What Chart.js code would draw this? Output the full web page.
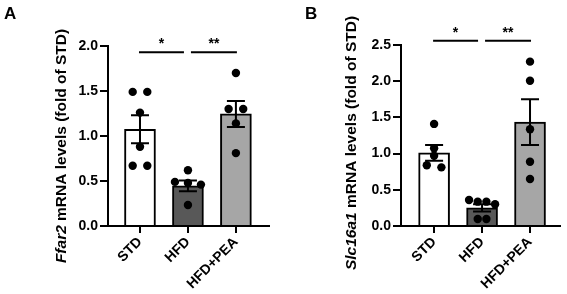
<!DOCTYPE html>
<html>
<head>
<meta charset="utf-8">
<script src="https://cdn.jsdelivr.net/npm/chart.js@4.4.1/dist/chart.umd.min.js"></script>
<style>
  body { margin: 0; background: #fff; }
  #wrap { display: flex; width: 567px; height: 294px; }
  canvas { display: block; }
</style>
</head>
<body>
<div id="wrap">
  <canvas id="chartA" width="284" height="294"></canvas>
  <canvas id="chartB" width="283" height="294"></canvas>
</div>
<script>
const groups = ['STD', 'HFD', 'HFD+PEA'];

// panel A - Ffar2
const ffar2Mean = [1.075, 0.445, 1.245];
const ffar2Sem = [0.155, 0.06, 0.145];
const ffar2Std = [1.49, 1.49, 1.26, 0.88, 0.67, 0.67];
const ffar2Hfd = [0.62, 0.49, 0.477, 0.46, 0.233];
const ffar2Pea = [1.70, 1.30, 1.30, 1.14, 0.81];
const ffar2Ticks = [0, 0.5, 1.0, 1.5, 2.0];
const ffar2SigY = 1.93;

// panel B - Slc16a1
const slcMean = [1.01, 0.25, 1.435];
const slcSem = [0.108, 0.05, 0.315];
const slcStd = [1.41, 1.073, 0.97, 0.84, 0.81];
const slcHfd = [0.36, 0.336, 0.336, 0.30, 0.097, 0.097];
const slcPea = [2.27, 2.007, 1.336, 0.888, 0.649];
const slcTicks = [0, 0.5, 1.0, 1.5, 2.0, 2.5];
const slcSigY = 2.56;

const sigPairs = [[0, 1], [1, 2]];
const sigLabels = ['*', '**'];

const barColors = ['#ffffff', '#585858', '#a6a6a6'];
const FONT = 'Liberation Sans, Arial, sans-serif';
Chart.defaults.font.family = FONT;
Chart.defaults.color = '#000';

function makePanel(id, p) {
  const barData = p.mean.map((m, i) => ({ x: i, y: m }));
  const dots = [];
  p.points.forEach((vals, g) => vals.forEach(v => dots.push({ x: g, y: v })));

  const panelPlugin = {
    id: 'panel' + id,
    // spread dots that sit on the same row, like prism does
    afterDatasetUpdate(chart, args) {
      if (args.index !== 0) return;
      const meta = args.meta;
      const byGroup = {};
      meta.data.forEach((pt, i) => {
        const g = dots[i].x;
        (byGroup[g] = byGroup[g] || []).push(pt);
      });
      Object.values(byGroup).forEach(pts => {
        pts.sort((a, b) => a.y - b.y);
        const rows = [];
        let row = null;
        pts.forEach(pt => {
          if (row && pt.y - row[0].y < 6) row.push(pt);
          else { row = [pt]; rows.push(row); }
        });
        const maxRow = Math.max(...rows.map(r => r.length));
        const gap = maxRow > 1 ? Math.min(14.6, 26 / (maxRow - 1)) : 0;
        rows.forEach(r => r.forEach((pt, k) => { pt.x += (k - (r.length - 1) / 2) * gap; }));
      });
    },
    // mean +/- SEM
    afterDatasetDraw(chart, args) {
      if (args.index !== 1) return;
      const c = chart.ctx, xs = chart.scales.x, ys = chart.scales.y;
      c.save();
      c.strokeStyle = '#000';
      c.lineWidth = 2;
      p.mean.forEach((m, i) => {
        const x = xs.getPixelForValue(i);
        const yt = ys.getPixelForValue(m + p.sem[i]);
        const yb = ys.getPixelForValue(m - p.sem[i]);
        c.beginPath();
        c.moveTo(x, yt); c.lineTo(x, yb);
        c.moveTo(x - 9, yt); c.lineTo(x + 9, yt);
        c.moveTo(x - 9, yb); c.lineTo(x + 9, yb);
        c.stroke();
      });
      c.restore();
    },
    afterDraw(chart) {
      const c = chart.ctx, xs = chart.scales.x, ys = chart.scales.y;
      c.save();
      c.fillStyle = '#000';
      c.strokeStyle = '#000';
      c.lineWidth = 2;
      // significance lines
      const ly = ys.getPixelForValue(p.sigY);
      sigPairs.forEach((pair, k) => {
        const x1 = xs.getPixelForValue(pair[0]) + (pair[0] > 0 ? 3 : -1);
        const x2 = xs.getPixelForValue(pair[1]) + (pair[1] < groups.length - 1 ? -4 : 1);
        c.beginPath();
        c.moveTo(x1, ly); c.lineTo(x2, ly);
        c.stroke();
        c.font = 'bold 14px ' + FONT;
        c.textAlign = 'center';
        c.textBaseline = 'alphabetic';
        c.fillText(sigLabels[k], (x1 + x2) / 2, ly - 4);
      });
      // panel letter
      c.font = 'bold 17px ' + FONT;
      c.textAlign = 'left';
      c.fillText(p.letter, p.letterX, 19);
      // y title, gene name in italics
      c.translate(p.titleX, p.titleY);
      c.rotate(-Math.PI / 2);
      c.textBaseline = 'middle';
      const fi = 'italic bold 15.5px ' + FONT, fb = 'bold 15.5px ' + FONT;
      c.font = fi; const w1 = c.measureText(p.gene).width;
      c.font = fb; const w2 = c.measureText(p.rest).width;
      const x0 = -(w1 + w2) / 2;
      c.font = fi; c.fillText(p.gene, x0, 0);
      c.font = fb; c.fillText(p.rest, x0 + w1, 0);
      c.restore();
    }
  };

  return new Chart(document.getElementById(id), {
    type: 'bar',
    data: {
      datasets: [
        {
          type: 'scatter', data: dots, order: 0,
          pointRadius: 4.2, pointHoverRadius: 4.2,
          pointBackgroundColor: '#000', pointBorderWidth: 0
        },
        {
          type: 'bar', data: barData, order: 1,
          backgroundColor: barColors, borderColor: '#000', borderWidth: 2,
          borderSkipped: 'bottom', barThickness: 31
        }
      ]
    },
    options: {
      responsive: false,
      animation: false,
      devicePixelRatio: 1,
      layout: { padding: { top: p.top, right: p.right, left: 0, bottom: 0 } },
      plugins: { legend: { display: false }, tooltip: { enabled: false } },
      scales: {
        x: {
          type: 'linear', min: p.xMin, max: p.xMax, offset: false, bounds: 'data',
          afterBuildTicks: s => { s.ticks = groups.map((g, i) => ({ value: i })); },
          afterFit: s => { s.height = 68; s.paddingLeft = 0; s.paddingRight = 0; },
          ticks: {
            callback: v => groups[v], autoSkip: false,
            minRotation: 45, maxRotation: 45, padding: 1,
            color: '#000', font: { weight: 'bold', size: 14 }
          },
          grid: { offset: false, drawOnChartArea: false, tickLength: 7, lineWidth: 2, color: '#000' },
          border: { color: '#000', width: 2 }
        },
        y: {
          min: 0, max: p.yMax,
          afterBuildTicks: s => { s.ticks = p.ticks.map(v => ({ value: v })); },
          afterFit: s => { s.width = p.left; s.paddingTop = 0; s.paddingBottom = 0; },
          ticks: {
            callback: v => v.toFixed(1), padding: 2,
            color: '#000', font: { weight: 'bold', size: 14 }
          },
          grid: { drawOnChartArea: false, tickLength: 8, lineWidth: 2, color: '#000' },
          border: { color: '#000', width: 2 }
        }
      }
    },
    plugins: [panelPlugin]
  });
}

makePanel('chartA', {
  mean: ffar2Mean, sem: ffar2Sem, points: [ffar2Std, ffar2Hfd, ffar2Pea],
  ticks: ffar2Ticks, yMax: 2.0, sigY: ffar2SigY,
  xMin: -0.667, xMax: 2.69, left: 108, top: 46, right: 15,
  letter: 'A', letterX: 4, gene: 'Ffar2', rest: ' mRNA levels (fold of STD)',
  titleX: 62, titleY: 146
});

makePanel('chartB', {
  mean: slcMean, sem: slcSem, points: [slcStd, slcHfd, slcPea],
  ticks: slcTicks, yMax: 2.5, sigY: slcSigY,
  xMin: -0.69, xMax: 2.625, left: 117, top: 45, right: 7,
  letter: 'B', letterX: 21, gene: 'Slc16a1', rest: ' mRNA levels (fold of STD)',
  titleX: 68, titleY: 143
});
</script>
</body>
</html>
